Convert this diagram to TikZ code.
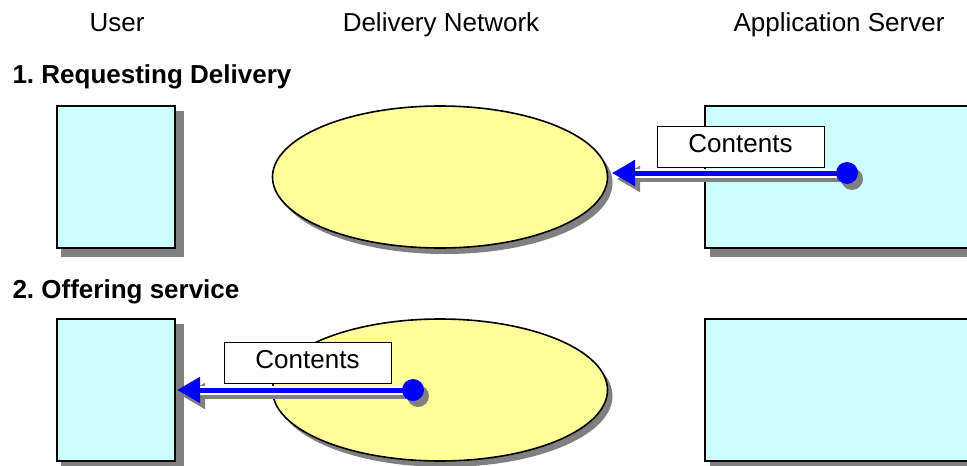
\documentclass[tikz,border=0pt]{standalone}
\usepackage{fontspec}
\setmainfont{Liberation Sans}
\frenchspacing
\usetikzlibrary{shapes.geometric,arrows.meta}
\definecolor{boxcyan}{HTML}{CCFFFF}
\definecolor{ellyellow}{HTML}{FFFF99}
\definecolor{shadowgray}{HTML}{808080}
\definecolor{arrblue}{HTML}{0000FF}
\begin{document}
\begin{tikzpicture}[x=1pt,y=-1pt,
  every node/.style={font=\fontsize{26}{30}\selectfont},
  header/.style={anchor=base},
  title/.style={anchor=base west,font=\fontsize{26}{30}\selectfont\bfseries},
  userbox/.style={draw=black,line width=1.8pt,fill=boxcyan,minimum width=118pt,minimum height=142pt,inner sep=0pt},
  serverbox/.style={draw=black,line width=1.8pt,fill=boxcyan,minimum width=285pt,minimum height=142pt,inner sep=0pt},
  cloud/.style={ellipse,draw=black,line width=1.6pt,fill=ellyellow,minimum width=335pt,minimum height=142pt,inner sep=0pt},
  label/.style={draw=black,line width=1pt,fill=white,minimum width=167pt,minimum height=41pt,inner sep=0pt,text height=19pt,text depth=8pt},
  dot/.style={circle,fill=arrblue,minimum size=22pt,inner sep=0pt},
  dotshadow/.style={circle,fill=shadowgray,minimum size=22pt,inner sep=0pt},
  shadowfill/.style={fill=shadowgray},
  flowshadow/.style={draw=shadowgray,line width=5pt,-{Triangle[length=23pt,width=25pt]}},
  flowgap/.style={draw=white,line width=9pt},
  flow/.style={draw=arrblue,line width=5pt,-{Triangle[length=23pt,width=25pt]}}
]
\useasboundingbox (0,0) rectangle (967,466);

% headers
\node[header] (hUser) at (117,31) {User};
\node[header] (hNet) at (441,31) {Delivery Network};
\node[header] (hSrv) at (839,31) {Application Server};

% titles
\node[title] (t1) at (9,83) {1. Requesting Delivery};
\node[title] (t2) at (9,298) {2. Offering service};

% ---------- row 1 ----------
\path[shadowfill] (61,111) rectangle (184,257);
\node[userbox] (u1) at (116,177) {};
\path[shadowfill] (445,183) ellipse [x radius=167.5pt, y radius=71pt];
\node[cloud] (e1) at (440,177) {};
\path[shadowfill] (710,111) rectangle (1000,257);
\node[serverbox] (s1) at (847.5,177) {};

\coordinate (tip1) at (612,173);
\coordinate (tip1s) at (617,179);
\coordinate (dot1s) at (852,179);
\node[dotshadow] (d1s) at (dot1s) {};
\draw[flowshadow] (dot1s) -- (tip1s);
\draw[flowgap] (847,173) -- (630,173);
\node[dot] (d1) at (847,173) {};
\draw[flow] (d1.center) -- (tip1);
\node[label] (c1) at (740.5,146.5) {Contents};

% ---------- row 2 ----------
\path[shadowfill] (61,324) rectangle (184,470);
\node[userbox] (u2) at (116,390) {};
\path[shadowfill] (445,396) ellipse [x radius=167.5pt, y radius=71pt];
\node[cloud] (e2) at (440,390) {};
\path[shadowfill] (710,324) rectangle (1000,466);
\node[serverbox] (s2) at (847.5,390) {};

\coordinate (tip2) at (177,390);
\coordinate (tip2s) at (182,396);
\coordinate (dot2s) at (418,396);
\node[dotshadow] (d2s) at (dot2s) {};
\draw[flowshadow] (dot2s) -- (tip2s);
\draw[flowgap] (413,390) -- (195,390);
\node[dot] (d2) at (413,390) {};
\draw[flow] (d2.center) -- (tip2);
\node[label] (c2) at (307.5,363) {Contents};
\end{tikzpicture}
\end{document}
